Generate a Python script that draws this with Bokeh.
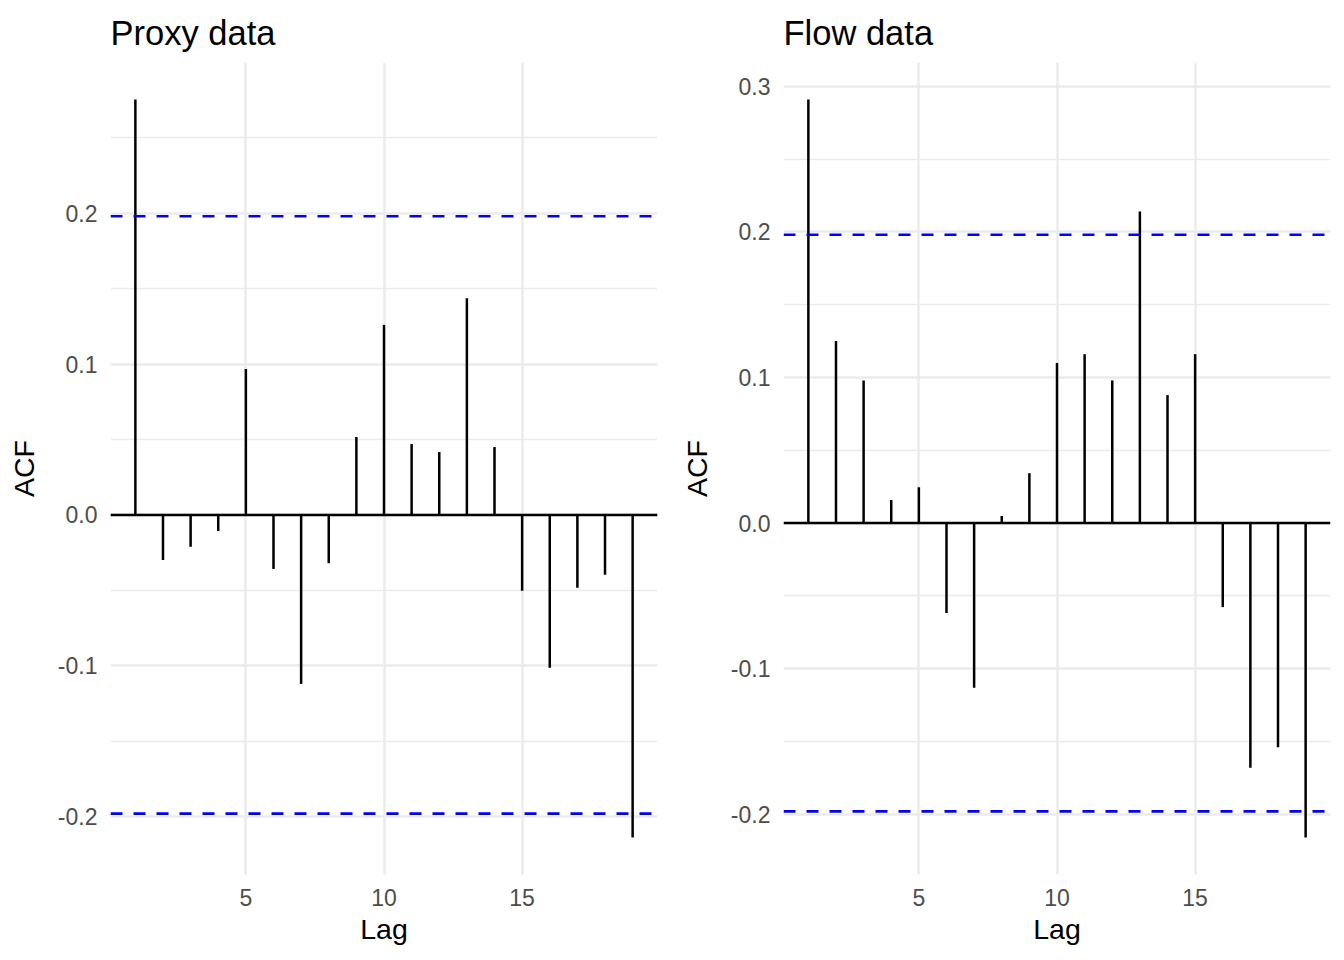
from bokeh.plotting import figure
from bokeh.layouts import row
from bokeh.models import FixedTicker, Range1d, Span
from bokeh.embed import file_html
from bokeh.resources import INLINE

lags = list(range(1, 20))
proxy_acf = [0.2755, -0.0298, -0.0210, -0.0106, 0.0967, -0.0358, -0.1120, -0.0320, 0.0517,
             0.1260, 0.0470, 0.0417, 0.1437, 0.0450, -0.0503, -0.1013, -0.0483, -0.0397, -0.2139]
flow_acf = [0.2910, 0.1250, 0.0980, 0.0158, 0.0247, -0.0618, -0.1130, 0.0048, 0.0343,
            0.1100, 0.1160, 0.0980, 0.2140, 0.0879, 0.1160, -0.0577, -0.1680, -0.1540, -0.2160]
conf_limit = 0.198
titles = ["Proxy data", "Flow data"]
x_ticks = [5, 10, 15]
y_ticks_proxy = [-0.2, -0.1, 0.0, 0.1, 0.2]
y_minor_proxy = [-0.15, -0.05, 0.05, 0.15, 0.25]
y_ticks_flow = [-0.2, -0.1, 0.0, 0.1, 0.2, 0.3]
y_minor_flow = [-0.15, -0.05, 0.05, 0.15, 0.25]

FONT = "Liberation Sans"


def make_panel(title, acf, yticks, yminor, left_border, right_border):
    lo, hi = min(acf), max(acf)
    pad = 0.05 * (hi - lo)
    xlo, xhi = min(lags), max(lags)
    xpad = 0.05 * (xhi - xlo)
    p = figure(width=672, height=958, output_backend="svg", toolbar_location=None,
               x_range=Range1d(xlo - xpad, xhi + xpad), y_range=Range1d(lo - pad, hi + pad),
               min_border_left=left_border, min_border_right=right_border,
               min_border_top=62, min_border_bottom=84)
    p.outline_line_color = None
    p.background_fill_color = "white"
    p.title.text = title
    p.title.text_font = FONT
    p.title.text_font_size = "34.5px"
    p.title.text_font_style = "normal"
    p.title.text_color = "black"
    p.title.offset = 0
    p.title.standoff = 22

    p.xaxis.ticker = FixedTicker(ticks=x_ticks)
    p.yaxis.ticker = FixedTicker(ticks=yticks, minor_ticks=yminor)
    p.yaxis.major_label_overrides = {t: ("%.1f" % t).replace("-0.0", "0.0") for t in yticks}
    for ax in (p.xaxis[0], p.yaxis[0]):
        ax.axis_line_color = None
        ax.major_tick_line_color = None
        ax.minor_tick_line_color = None
        ax.major_label_text_font = FONT
        ax.major_label_text_font_size = "23px"
        ax.major_label_text_color = "#4D4D4D"
        ax.axis_label_text_font = FONT
        ax.axis_label_text_font_size = "28.5px"
        ax.axis_label_text_font_style = "normal"
        ax.axis_label_text_color = "black"
    p.xaxis.axis_label = "Lag"
    p.yaxis.axis_label = "ACF"
    p.xaxis.major_label_standoff = 8
    p.xaxis.axis_label_standoff = 4
    p.yaxis.major_label_standoff = 7
    p.yaxis.axis_label_standoff = 15

    p.xgrid.grid_line_color = "#EBEBEB"
    p.xgrid.grid_line_width = 2.5
    p.ygrid.grid_line_color = "#EBEBEB"
    p.ygrid.grid_line_width = 2.5
    p.ygrid.minor_grid_line_color = "#EBEBEB"
    p.ygrid.minor_grid_line_width = 1.4

    p.segment(x0=lags, y0=[0] * len(lags), x1=lags, y1=acf, line_color="black", line_width=2.5)
    p.add_layout(Span(location=0, dimension="width", line_color="black", line_width=2.5))
    for c in (conf_limit, -conf_limit):
        p.add_layout(Span(location=c, dimension="width", line_color="#0000FF",
                          line_width=2.6, line_dash="12 11"))
    return p


p1 = make_panel(titles[0], proxy_acf, y_ticks_proxy, y_minor_proxy, 110, 15)
p2 = make_panel(titles[1], flow_acf, y_ticks_flow, y_minor_flow, 111, 14)
layout = row(p1, p2, spacing=0)

open("out.html", "w").write(file_html(layout, INLINE))
